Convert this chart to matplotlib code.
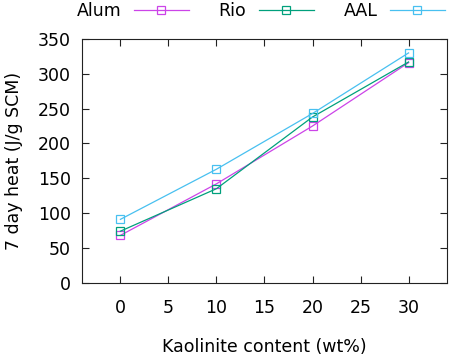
import matplotlib
matplotlib.use("Agg")
from matplotlib import pyplot as plt

# data
kaolinite = [0, 10, 20, 30]
alum = [68, 142, 225, 316]
rio = [74, 135, 238, 317]
aal = [91, 163, 243, 330]

series = [
    ("Alum", alum, "#cc44e8"),
    ("Rio", rio, "#00a07c"),
    ("AAL", aal, "#48c0f0"),
]

plt.rcParams["font.family"] = "DejaVu Sans"
plt.rcParams["font.size"] = 12.5

fig = plt.figure(figsize=(4.5, 3.58), dpi=100)
ax = fig.add_axes([0.1822, 0.2103, 0.8111, 0.6808])

for name, values, colour in series:
    ax.plot(kaolinite, values, color=colour, linewidth=0.9,
            marker="s", markersize=6.3, markerfacecolor="none",
            markeredgewidth=0.9, label=name)

ax.set_xlim(-4, 34)
ax.set_ylim(0, 350)
ax.set_xticks(range(0, 31, 5))
ax.set_yticks(range(0, 351, 50))
ax.tick_params(direction="in", length=5, top=True, right=True, width=0.8,
               colors="#222222", labelcolor="black")
ax.tick_params(axis="x", pad=12)
ax.tick_params(axis="y", pad=8)
for spine in ax.spines.values():
    spine.set_linewidth(0.8)
    spine.set_color("#222222")

ax.set_xlabel("Kaolinite content (wt%)", labelpad=15)
ax.set_ylabel("7 day heat (J/g SCM)", labelpad=11)

fig.legend(loc="center", bbox_to_anchor=(0.58, 0.969), ncol=3,
           markerfirst=False, frameon=False, handlelength=3.2,
           handletextpad=0.7, columnspacing=1.7, borderaxespad=0,
           borderpad=0)

fig.savefig("out.png", dpi=100)
